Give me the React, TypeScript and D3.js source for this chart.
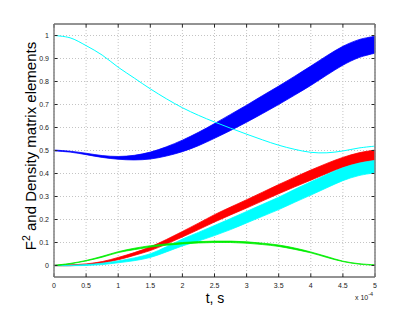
import React from "react";
import * as d3 from "d3";

// time axis (units of 1e-4 s)
const tValues = [0, 0.25, 0.5, 0.75, 1, 1.25, 1.5, 1.75, 2, 2.25, 2.5, 2.75, 3, 3.25, 3.5, 3.75, 4, 4.25, 4.5, 4.75, 5];

// thin cyan curve
const cyanLine = [1.0, 0.99, 0.956, 0.915, 0.862, 0.815, 0.768, 0.725, 0.686, 0.653, 0.624, 0.597, 0.571, 0.546, 0.523, 0.505, 0.492, 0.49, 0.498, 0.511, 0.519];

// oscillating bands: centre and half width
const blueMid = [0.5, 0.495, 0.485, 0.474, 0.468, 0.469, 0.478, 0.496, 0.52, 0.55, 0.585, 0.622, 0.66, 0.7, 0.74, 0.782, 0.825, 0.87, 0.912, 0.943, 0.96];
const blueHalf = [0.002, 0.002, 0.003, 0.004, 0.006, 0.01, 0.015, 0.02, 0.025, 0.029, 0.032, 0.035, 0.037, 0.039, 0.04, 0.041, 0.042, 0.042, 0.041, 0.039, 0.037];

const redMid = [0, 0.001, 0.005, 0.014, 0.03, 0.05, 0.073, 0.103, 0.136, 0.17, 0.205, 0.237, 0.268, 0.3, 0.332, 0.363, 0.393, 0.422, 0.448, 0.468, 0.48];
const redHalf = [0.001, 0.002, 0.002, 0.003, 0.005, 0.006, 0.008, 0.01, 0.012, 0.014, 0.016, 0.017, 0.018, 0.019, 0.02, 0.021, 0.022, 0.022, 0.022, 0.022, 0.022];

const cyanMid = [0, 0, 0.002, 0.007, 0.016, 0.027, 0.043, 0.07, 0.1, 0.125, 0.152, 0.18, 0.21, 0.24, 0.27, 0.303, 0.335, 0.367, 0.397, 0.418, 0.43];
const cyanHalf = [0.001, 0.001, 0.002, 0.003, 0.004, 0.006, 0.008, 0.011, 0.015, 0.019, 0.022, 0.024, 0.025, 0.026, 0.027, 0.028, 0.029, 0.029, 0.028, 0.027, 0.027];

const greenMid = [0, 0.008, 0.021, 0.038, 0.058, 0.072, 0.083, 0.091, 0.097, 0.101, 0.103, 0.103, 0.1, 0.094, 0.086, 0.073, 0.057, 0.037, 0.018, 0.007, 0.002];
const greenHalf = [0.001, 0.001, 0.001, 0.002, 0.002, 0.003, 0.003, 0.003, 0.003, 0.003, 0.003, 0.003, 0.003, 0.003, 0.003, 0.003, 0.002, 0.002, 0.001, 0.001, 0.001];

const xTicks = [0, 0.5, 1, 1.5, 2, 2.5, 3, 3.5, 4, 4.5, 5];
const yTicks = [0, 0.1, 0.2, 0.3, 0.4, 0.5, 0.6, 0.7, 0.8, 0.9, 1];

const width = 415;
const height = 312;
const left = 54;
const right = 375;
const top = 24;
const bottom = 277;

const font = "'Liberation Sans', Arial, sans-serif";

const App: React.FC = () => {
  const x = d3.scaleLinear().domain([0, 5]).range([left, right]);
  const y = d3.scaleLinear().domain([-0.05, 1.05]).range([bottom, top]);

  const band = (mid: number[], half: number[]) =>
    d3
      .area<number>()
      .x((_, i) => x(tValues[i]))
      .y0((d, i) => y(d - half[i]))
      .y1((d, i) => y(d + half[i]))
      .curve(d3.curveCatmullRom)(mid) || "";

  const line = d3
    .line<number>()
    .x((_, i) => x(tValues[i]))
    .y((d) => y(d))
    .curve(d3.curveCatmullRom);

  const series = [
    { mid: redMid, half: redHalf, color: "#ff0000" },
    { mid: cyanMid, half: cyanHalf, color: "#00ffff" },
    { mid: greenMid, half: greenHalf, color: "#00ee00" },
  ];

  return (
    <svg width={width} height={height} style={{ position: "absolute", left: 0, top: 0, background: "#fff" }}>
      {/* grid */}
      {xTicks.map((t) => (
        <line key={"gx" + t} x1={x(t)} x2={x(t)} y1={top} y2={bottom} stroke="#c4c4c4" strokeDasharray="1,2" />
      ))}
      {yTicks.map((t) => (
        <line key={"gy" + t} x1={left} x2={right} y1={y(t)} y2={y(t)} stroke="#c4c4c4" strokeDasharray="1,2" />
      ))}

      {/* curves */}
      <path d={band(blueMid, blueHalf)} fill="#0000ff" stroke="#0000ff" strokeWidth={0.8} />
      <path d={line(cyanLine) || ""} fill="none" stroke="#00ffff" strokeWidth={1} />
      {series.map((s) => (
        <path key={s.color} d={band(s.mid, s.half)} fill={s.color} stroke={s.color} strokeWidth={0.8} />
      ))}

      {/* ticks */}
      {xTicks.map((t) => (
        <g key={"tx" + t}>
          <line x1={x(t)} x2={x(t)} y1={bottom} y2={bottom - 3.5} stroke="#262626" />
          <line x1={x(t)} x2={x(t)} y1={top} y2={top + 3.5} stroke="#262626" />
          <text x={x(t)} y={287.5} fontSize={7} fontFamily={font} textAnchor="middle" fill="#222">
            {t}
          </text>
        </g>
      ))}
      {yTicks.map((t) => (
        <g key={"ty" + t}>
          <line x1={left} x2={left + 3.5} y1={y(t)} y2={y(t)} stroke="#262626" />
          <line x1={right} x2={right - 3.5} y1={y(t)} y2={y(t)} stroke="#262626" />
          <text x={49} y={y(t) + 2.5} fontSize={7} fontFamily={font} textAnchor="end" fill="#222">
            {t}
          </text>
        </g>
      ))}

      {/* box */}
      <line x1={left} x2={right} y1={top} y2={top} stroke="#262626" />
      <line x1={left} x2={right} y1={bottom} y2={bottom} stroke="#262626" />
      <line x1={left} x2={left} y1={top} y2={bottom} stroke="#808080" strokeWidth={1.5} />
      <line x1={right} x2={right} y1={top} y2={bottom} stroke="#808080" strokeWidth={1.5} />

      {/* labels */}
      <text x={215} y={303} fontSize={14} fontFamily={font} textAnchor="middle" fill="#000">
        t, s
      </text>
      <text x={355} y={300} fontSize={7} fontFamily={font} fill="#222">
        x 10
        <tspan dy={-4} fontSize={5.5}>
          -4
        </tspan>
      </text>
      <text transform="translate(36,146) rotate(-90)" fontSize={15} fontFamily={font} textAnchor="middle" fill="#000">
        F
        <tspan dy={-6.5} fontSize={10.5}>
          2
        </tspan>
        <tspan dy={6.5}> and Density matrix elements</tspan>
      </text>
    </svg>
  );
};

export default App;
